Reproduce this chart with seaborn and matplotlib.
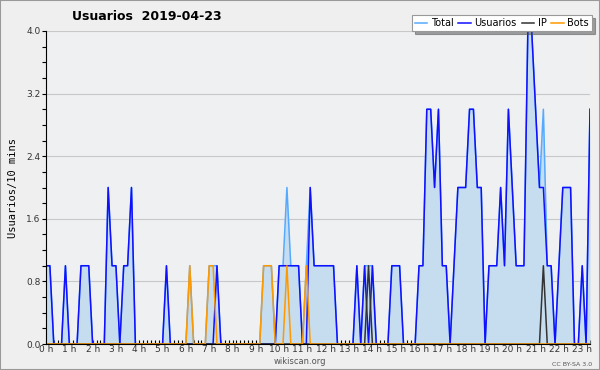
import pandas as pd
import matplotlib.pyplot as plt
import matplotlib.patches as patches
from matplotlib.ticker import MultipleLocator
import seaborn as sns

# Values per 10-minute slot (0:00 to 23:20)
usuarios = [1, 1, 0, 0, 0, 1, 0, 0, 0, 1, 1, 1, 0, 0, 0, 0, 2, 1, 1, 0,
            1, 1, 2, 0, 0, 0, 0, 0, 0, 0, 0, 1, 0, 0, 0, 0, 0, 0, 0, 0,
            0, 0, 0, 0, 1, 0, 0, 0, 0, 0, 0, 0, 0, 0, 0, 0, 0, 0, 0, 0,
            1, 1, 1, 1, 1, 1, 0, 0, 2, 1, 1, 1, 1, 1, 1, 0, 0, 0, 0, 0,
            1, 0, 1, 0, 1, 0, 0, 0, 0, 1, 1, 1, 0, 0, 0, 0, 1, 1, 3, 3,
            2, 3, 1, 1, 0, 1, 2, 2, 2, 3, 3, 2, 2, 0, 1, 1, 1, 2, 1, 3,
            2, 1, 1, 1, 4, 4, 3, 2, 2, 1, 1, 0, 1, 2, 2, 2, 0, 0, 1, 0,
            3]
total = [1, 1, 0, 0, 0, 1, 0, 0, 0, 1, 1, 1, 0, 0, 0, 0, 2, 1, 1, 0,
         1, 1, 2, 0, 0, 0, 0, 0, 0, 0, 0, 1, 0, 0, 0, 0, 0, 1, 0, 0,
         0, 0, 1, 1, 1, 0, 0, 0, 0, 0, 0, 0, 0, 0, 0, 0, 1, 1, 1, 0,
         1, 1, 2, 1, 1, 1, 0, 1, 2, 1, 1, 1, 1, 1, 1, 0, 0, 0, 0, 0,
         1, 0, 1, 1, 1, 0, 0, 0, 0, 1, 1, 1, 0, 0, 0, 0, 1, 1, 3, 3,
         2, 3, 1, 1, 0, 1, 2, 2, 2, 3, 3, 2, 2, 0, 1, 1, 1, 2, 1, 3,
         2, 1, 1, 1, 4, 4, 3, 2, 3, 1, 1, 0, 1, 2, 2, 2, 0, 0, 1, 0,
         3]
ip = [0] * 83 + [1] + [0] * 44 + [1] + [0] * 12
bots = [0] * 37 + [1, 0, 0, 0, 0, 1, 1] + [0] * 12 + [1, 1, 1, 0, 0, 0, 1] + [0] * 4 + [1] + [0] * 73
hour_labels = [f'{h} h' for h in range(24)]

df = pd.DataFrame({'slot': range(len(usuarios)), 'Total': total,
                   'Usuarios': usuarios, 'IP': ip, 'Bots': bots})

fig = plt.figure(figsize=(6, 3.7), dpi=100, facecolor='#efefef')
ax = fig.add_axes([46 / 600, 1 - 344 / 370, 544 / 600, 313 / 370])
ax.set_facecolor('#eef0f2')

ax.fill_between(df['slot'], df['Total'], color='#c6dcef', lw=0)
sns.lineplot(data=df, x='slot', y='Total', ax=ax, color='#55aaff', lw=1.1, label='Total')
sns.lineplot(data=df, x='slot', y='Usuarios', ax=ax, color='#1010ff', lw=1.1, label='Usuarios')
sns.lineplot(data=df, x='slot', y='IP', ax=ax, color='#333333', lw=1.1, label='IP')
sns.lineplot(data=df, x='slot', y='Bots', ax=ax, color='#ff9900', lw=1.1, label='Bots')

ax.set_xlim(0, len(usuarios) - 1)
ax.set_ylim(0, 4.0)
ax.set_yticks([0.0, 0.8, 1.6, 2.4, 3.2, 4.0])
ax.set_yticklabels(['0.0', '0.8', '1.6', '2.4', '3.2', '4.0'])
ax.yaxis.set_minor_locator(MultipleLocator(0.2))
ax.set_xticks(range(0, 24 * 6, 6))
ax.set_xticklabels(hour_labels)
ax.xaxis.set_minor_locator(MultipleLocator(1))
ax.grid(axis='y', color='#c8c8c8', lw=0.8)
ax.set_axisbelow(True)
for s in ['top', 'right']:
    ax.spines[s].set_visible(False)
ax.spines['left'].set_color('black')
ax.spines['bottom'].set_color('black')
ax.tick_params(axis='y', which='both', direction='out', length=3, width=0.8,
               labelsize=6.5, labelcolor='#333333', pad=1)
ax.tick_params(axis='x', which='both', direction='in', length=3, width=0.8,
               labelsize=6.5, labelcolor='#333333', pad=1)
ax.set_xlabel('')
ax.set_ylabel('Usuarios/10 mins', family='DejaVu Sans Mono', fontsize=7.5, labelpad=6)

fig.text(147 / 600, 1 - 17 / 370, 'Usuarios  2019-04-23', ha='center', va='center',
         fontsize=9, fontweight='bold')
fig.text(0.5, 1 - 362 / 370, 'wikiscan.org', ha='center', va='center',
         fontsize=6, color='#555555')
fig.text(592 / 600, 1 - 365 / 370, 'CC BY-SA 3.0', ha='right', va='center',
         fontsize=4.5, color='#555555')

leg = ax.legend(ncol=4, loc='upper right', bbox_to_anchor=(592 / 600, 1 - 15 / 370),
                bbox_transform=fig.transFigure, fontsize=7, frameon=True,
                fancybox=False, shadow=True, handlelength=1.3, handletextpad=0.35,
                columnspacing=0.5, borderpad=0.3, borderaxespad=0)
leg.get_frame().set_edgecolor('#999999')
leg.get_frame().set_linewidth(0.8)

fig.patches.append(patches.Rectangle((0, 0), 1, 1, transform=fig.transFigure,
                                     fill=False, edgecolor='#999999', lw=1.5))

plt.savefig('out.png', dpi=100, facecolor=fig.get_facecolor())
plt.close()
